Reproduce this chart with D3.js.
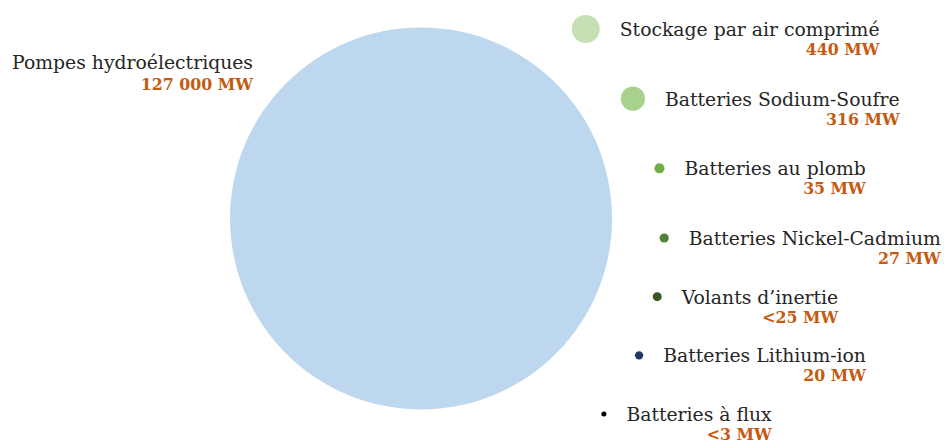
<!DOCTYPE html>
<html><head><meta charset="utf-8">
<script src="https://cdn.jsdelivr.net/npm/d3@7"></script>
<style>html,body{margin:0;padding:0;background:#fff;}</style>
</head><body>
<svg id="chart" width="944" height="444"></svg>
<script>
// ---- data ----
const bigName = "Pompes hydroélectriques";
const bigValue = 127000;
const names = ["Stockage par air comprimé","Batteries Sodium-Soufre","Batteries au plomb","Batteries Nickel-Cadmium","Volants d\u2019inertie","Batteries Lithium-ion","Batteries à flux"];
const values = [440, 316, 35, 27, 25, 20, 3];
const qualifiers = ["", "", "", "", "<", "", "<"];
const unit = "MW";
const colors = ["#C5E0B4","#A9D18E","#70AD47","#548235","#385723","#1F3864","#000000"];
const bigColor = "#BDD7EE";

// ---- layout ----
const W = 944, H = 444;
const svg = d3.select("#chart");
const fr = d3.formatLocale({decimal:",", thousands:" ", grouping:[3], currency:["",""]});
const fmt = fr.format(",d");
const label = (v,q) => q + fmt(v) + " " + unit;

const rScale = d3.scaleSqrt().domain([0, 440, bigValue]).range([1.5, 14, 191]);
const bigCx = W*0.446, bigCy = H*0.492;

svg.append("circle").attr("cx", bigCx).attr("cy", bigCy).attr("r", rScale(bigValue)).attr("fill", bigColor);

const labelFont = "'DejaVu Serif', serif";
const nameSize = 18.8, valueSize = 15.8;
const nameColor = "#262626", valueColor = "#C55A11";
const bx = bigCx - 168, by = bigCy - 149;
svg.append("text").attr("x", bx).attr("y", by).attr("text-anchor","end")
  .attr("font-family", labelFont).attr("font-size", nameSize).attr("fill", nameColor).text(bigName);
svg.append("text").attr("x", bx).attr("y", by+21).attr("text-anchor","end")
  .attr("font-family", labelFont).attr("font-size", valueSize).attr("font-weight","bold").attr("fill", valueColor)
  .text(label(bigValue, ""));

// row positions
const yRow = d3.scaleLinear().domain([0, 3, 6]).range([29, 238, 414]);
const ellCx = 540, ellA = 149, ellB = 232, ellCy = 225;
const textX = y => ellCx + ellA*Math.sqrt(Math.max(0, 1 - Math.pow((y-ellCy)/ellB, 2)));

const rows = names.map((n,i) => ({name:n, value:values[i], q:qualifiers[i], color:colors[i], y:yRow(i)}));
const g = svg.selectAll("g.item").data(rows).join("g").attr("class","item");
g.append("circle")
  .attr("cx", d => textX(d.y) - 20 - rScale(d.value))
  .attr("cy", d => d.y)
  .attr("r", d => rScale(d.value))
  .attr("fill", d => d.color);
g.append("text")
  .attr("x", d => textX(d.y)).attr("y", d => d.y + 7)
  .attr("font-family", labelFont).attr("font-size", nameSize).attr("fill", nameColor)
  .text(d => d.name);
g.each(function(d){
  const t = d3.select(this).select("text").node();
  const w = t.getComputedTextLength();
  d3.select(this).append("text")
    .attr("x", textX(d.y) + w).attr("y", d.y + 26).attr("text-anchor","end")
    .attr("font-family", labelFont).attr("font-size", valueSize).attr("font-weight","bold").attr("fill", valueColor)
    .text(label(d.value, d.q));
});
</script>
</body></html>
